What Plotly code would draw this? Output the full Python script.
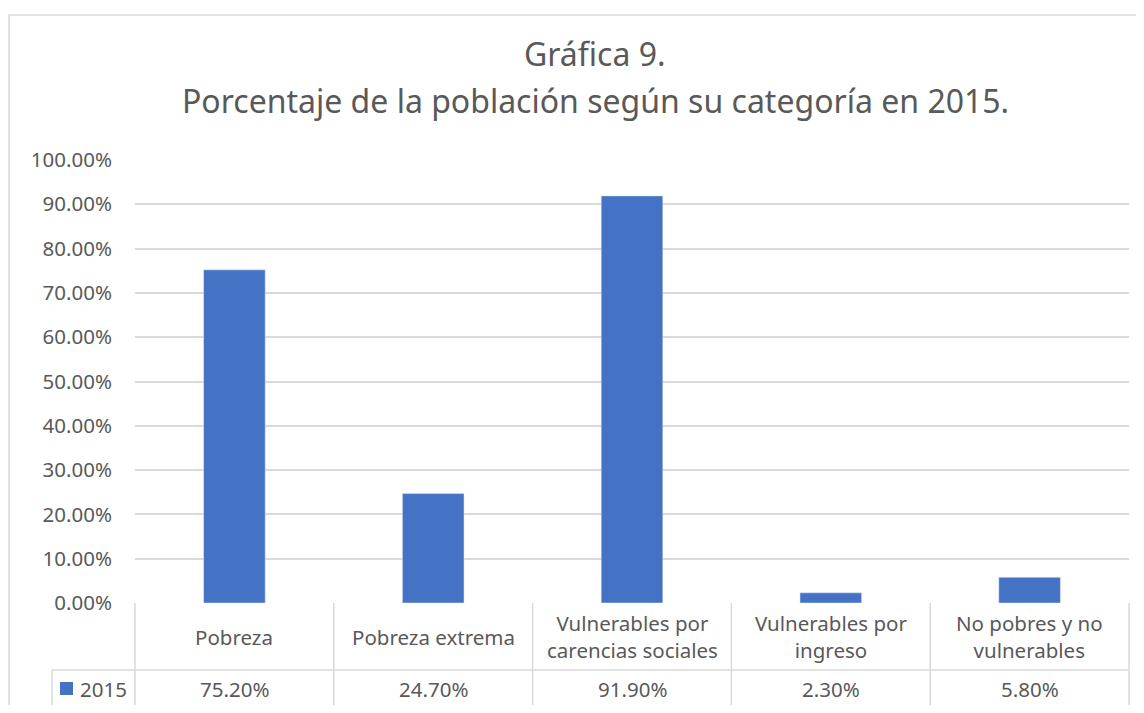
import plotly.graph_objects as go

# data
categorias = ["Pobreza", "Pobreza extrema", "Vulnerables por<br>carencias sociales",
              "Vulnerables por<br>ingreso", "No pobres y no<br>vulnerables"]
valores = [0.752, 0.247, 0.919, 0.023, 0.058]
serie = "2015"

# page has an 8px body margin, so the figure is a bit smaller than the window
OFF = 8
W, H = 1144 - 2 * OFF, 713 - 2 * OFF
L, R, T, B = 127, 7, 152, 102
pw, ph = W - L - R, H - T - B
GRID = "#d9d9d9"
TXT = "#595959"
FONT = "Noto Sans"
FS = 20.5


def px_x(p):
    # screen pixel -> paper x
    return (p - OFF - L) / pw


def px_y(p):
    # screen pixel -> paper y
    return (H - B - (p - OFF)) / ph


fig = go.Figure(go.Bar(
    x=list(range(len(categorias))),
    y=valores,
    marker_color="#4472C4",
    width=0.31,
    name=serie,
))

shapes = []
# outer chart border
shapes.append(dict(type="rect", xref="paper", yref="paper",
                   x0=px_x(9), x1=px_x(1170), y0=px_y(740), y1=px_y(15),
                   line=dict(color=GRID, width=1.5)))
# data table grid
n = len(categorias)
row1, row2 = px_y(670), px_y(707)
for i in range(n + 1):
    shapes.append(dict(type="line", xref="paper", yref="paper",
                       x0=i / n, x1=i / n, y0=row2, y1=0,
                       line=dict(color=GRID, width=1.5)))
for yy in (row1, row2):
    shapes.append(dict(type="line", xref="paper", yref="paper",
                       x0=px_x(52), x1=1, y0=yy, y1=yy,
                       line=dict(color=GRID, width=1.5)))
shapes.append(dict(type="line", xref="paper", yref="paper",
                   x0=px_x(52), x1=px_x(52), y0=row2, y1=row1,
                   line=dict(color=GRID, width=1.5)))
# legend key
shapes.append(dict(type="rect", xref="paper", yref="paper",
                   x0=px_x(60), x1=px_x(73), y0=px_y(695), y1=px_y(682),
                   fillcolor="#4472C4", line=dict(width=0)))

annotations = []
for i, (c, v) in enumerate(zip(categorias, valores)):
    annotations.append(dict(x=i, xref="x", y=(0 + row1) / 2, yref="paper",
                            text=c, showarrow=False, yanchor="middle",
                            font=dict(family=FONT, size=FS, color=TXT)))
    annotations.append(dict(x=i, xref="x", y=(row1 + row2) / 2, yref="paper",
                            text=f"{v * 100:.2f}%", showarrow=False, yanchor="middle",
                            font=dict(family=FONT, size=FS, color=TXT)))
annotations.append(dict(x=px_x(78), xref="paper", y=(row1 + row2) / 2, yref="paper",
                        text=serie, showarrow=False, xanchor="left", yanchor="middle",
                        font=dict(family=FONT, size=FS, color=TXT)))
annotations.append(dict(x=px_x(595), xref="paper", y=px_y(53), yref="paper",
                        text="Gráfica 9.", showarrow=False, yanchor="middle",
                        font=dict(family=FONT, size=32, color=TXT)))
annotations.append(dict(x=px_x(595), xref="paper", y=px_y(100), yref="paper",
                        text="Porcentaje de la población según su categoría en 2015.",
                        showarrow=False, yanchor="middle",
                        font=dict(family=FONT, size=32, color=TXT)))

fig.update_layout(
    width=W, height=H,
    margin=dict(l=L, r=R, t=T, b=B),
    paper_bgcolor="white", plot_bgcolor="white",
    showlegend=False,
    bargap=0.69,
    shapes=shapes,
    annotations=annotations,
    xaxis=dict(range=[-0.5, n - 0.5], showticklabels=False, showgrid=False,
               zeroline=False, showline=False),
    yaxis=dict(range=[0, 1.0], dtick=0.1, tickformat=".2%", showgrid=True,
               gridcolor=GRID, gridwidth=1.5, zeroline=False, showline=False,
               ticklabelstandoff=22,
               tickfont=dict(family=FONT, size=FS, color=TXT)),
)

fig.write_html("out.html")
